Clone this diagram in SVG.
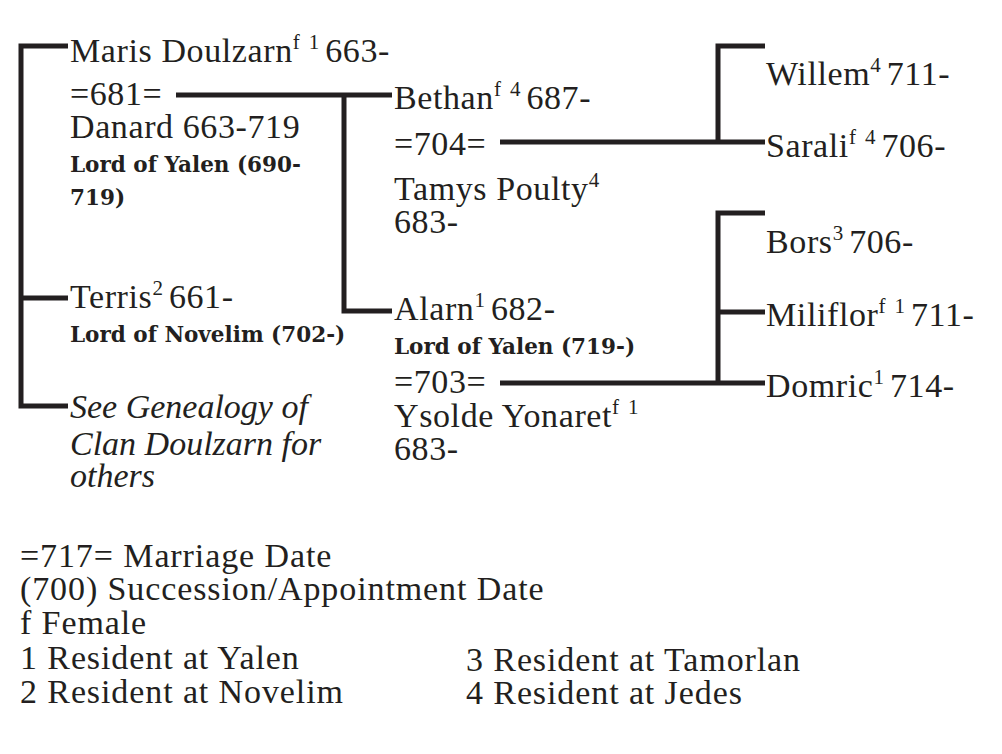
<svg xmlns="http://www.w3.org/2000/svg" width="1002" height="754" viewBox="0 0 1002 754">
<style>
text{font-family:"Liberation Serif","Times New Roman",serif;font-size:34px;fill:#231f20;letter-spacing:0.6px}
.b{font-family:"DejaVu Serif",serif;font-weight:bold;font-size:21.5px;letter-spacing:0}
.i{font-style:italic;letter-spacing:0}
.s{font-size:21px;letter-spacing:0}
.lg{letter-spacing:0.9px}
.ln{stroke:#231f20;stroke-width:5;fill:none;stroke-linecap:butt}
</style>
<rect width="1002" height="754" fill="#fff"/>
<g id="connectors">
<path class="ln" d="M68,46 H21 V406 H68 M21,298 H68"/>
<path class="ln" d="M176,95 H392 M344,95 V311 H392"/>
<path class="ln" d="M500,142 H765 M765,46 H718 V142"/>
<path class="ln" d="M500,383 H765 M765,213 H718 V383 M718,312 H765"/>
</g>
<g id="maris"><text x="70" y="62">Maris Doulzarn<tspan class="s" dy="-13">f</tspan><tspan class="s" dx="9">1</tspan><tspan dy="13" dx="6">663-</tspan></text>
<text x="70" y="105">=681=</text></g>
<g id="danard"><text x="70" y="138">Danard 663-719</text>
<text class="b" x="70" y="172">Lord of Yalen (690-</text>
<text class="b" x="70" y="205">719)</text></g>
<g id="terris"><text x="70" y="308">Terris<tspan class="s" dy="-13">2</tspan><tspan dy="13" dx="6">661-</tspan></text>
<text class="b" x="70" y="342">Lord of Novelim (702-)</text></g>
<g id="see"><text class="i" x="70" y="418">See Genealogy of</text>
<text class="i" x="70" y="455">Clan Doulzarn for</text>
<text class="i" x="70" y="487">others</text></g>
<g id="bethan"><text x="394" y="109">Bethan<tspan class="s" dy="-13">f</tspan><tspan class="s" dx="9">4</tspan><tspan dy="13" dx="6">687-</tspan></text>
<text x="394" y="155">=704=</text></g>
<g id="tamys"><text x="394" y="200">Tamys Poulty<tspan class="s" dy="-13">4</tspan></text>
<text x="394" y="233">683-</text></g>
<g id="alarn"><text x="394" y="320">Alarn<tspan class="s" dy="-13">1</tspan><tspan dy="13" dx="6">682-</tspan></text>
<text class="b" x="394" y="354">Lord of Yalen (719-)</text>
<text x="394" y="393">=703=</text></g>
<g id="ysolde"><text x="394" y="427">Ysolde Yonaret<tspan class="s" dy="-13">f</tspan><tspan class="s" dx="9">1</tspan></text>
<text x="394" y="460">683-</text></g>
<g id="willem"><text x="766" y="85">Willem<tspan class="s" dy="-13">4</tspan><tspan dy="13" dx="6">711-</tspan></text></g>
<g id="sarali"><text x="766" y="157">Sarali<tspan class="s" dy="-13">f</tspan><tspan class="s" dx="9">4</tspan><tspan dy="13" dx="6">706-</tspan></text></g>
<g id="bors"><text x="766" y="253">Bors<tspan class="s" dy="-13">3</tspan><tspan dy="13" dx="6">706-</tspan></text></g>
<g id="miliflor"><text x="766" y="326">Miliflor<tspan class="s" dy="-13">f</tspan><tspan class="s" dx="9">1</tspan><tspan dy="13" dx="6">711-</tspan></text></g>
<g id="domric"><text x="766" y="397">Domric<tspan class="s" dy="-13">1</tspan><tspan dy="13" dx="6">714-</tspan></text></g>
<g id="legend">
<text class="lg" x="20" y="567">=717= Marriage Date</text>
<text class="lg" x="20" y="600">(700) Succession/Appointment Date</text>
<text class="lg" x="20" y="634">f Female</text>
<text class="lg" x="20" y="669">1 Resident at Yalen</text>
<text class="lg" x="20" y="703">2 Resident at Novelim</text>
<text class="lg" x="466" y="671">3 Resident at Tamorlan</text>
<text class="lg" x="466" y="704">4 Resident at Jedes</text>
</g>
</svg>
